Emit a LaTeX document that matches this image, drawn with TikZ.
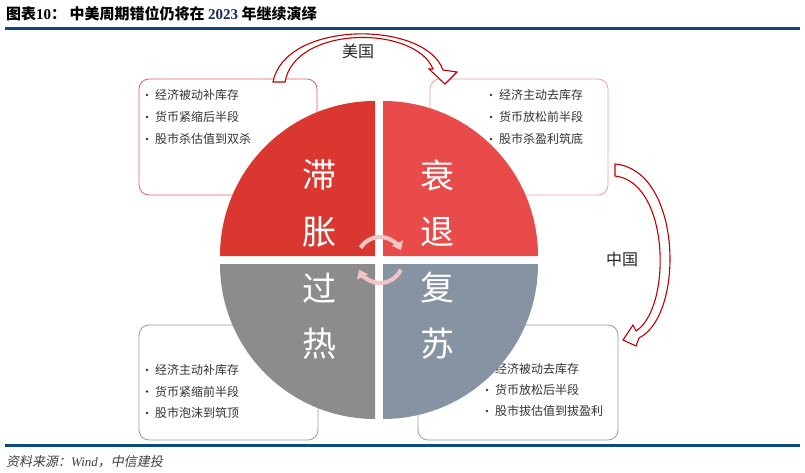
\documentclass[tikz,border=0pt]{standalone}
\usepackage{fontspec}
\setmainfont{Noto Sans CJK SC}
\newfontfamily\tnr{Liberation Serif}
\newfontfamily\tnrit{Liberation Serif Italic}
\newfontfamily\srcfont[FakeSlant=0.2]{Noto Sans CJK SC}
\usetikzlibrary{arrows.meta}
\definecolor{topblue}{HTML}{0F4A7E}
\definecolor{qTL}{HTML}{D9372F}
\definecolor{qTR}{HTML}{E94B4A}
\definecolor{qBL}{HTML}{8C8C8C}
\definecolor{qBR}{HTML}{8593A3}
\definecolor{bTL}{HTML}{E06464}
\definecolor{bTR}{HTML}{F2A0A0}
\definecolor{bBL}{HTML}{9C9C9C}
\definecolor{bBR}{HTML}{8F9CB0}
\definecolor{arrred}{HTML}{C00000}
\definecolor{pinkarr}{HTML}{F2C4C4}
\definecolor{txt}{HTML}{333333}
\definecolor{navytxt}{HTML}{1B2A55}
\begin{document}
\begin{tikzpicture}[x=1pt,y=-1pt,
  infobox/.style={rounded corners=10pt, fill=white, line width=0.8pt},
  bullet/.style={circle, fill=txt, inner sep=0pt, minimum size=2.6pt},
  item/.style={anchor=west, inner sep=0pt, font=\fontsize{12}{14}\selectfont, text=txt},
  quadtext/.style={anchor=center, inner sep=0pt, text=white, font=\fontsize{34}{36}\selectfont},
  bigarrow/.style={draw=arrred, fill=white, line width=1.1pt, line join=miter},
  cyclearr/.style={draw=pinkarr, line width=4.2pt, -{Triangle[length=8pt,width=12pt]}},
  country/.style={anchor=center, inner sep=0pt, font=\fontsize{16}{18}\selectfont, text=black!85}]
\useasboundingbox (0,0) rectangle (805,473);
\fill[white] (0,0) rectangle (805,473);

% title and rules
\node[anchor=west, inner sep=0pt, font=\fontsize{15}{17}\selectfont\bfseries] (title) at (6,14)
  {图表{\tnr\bfseries 10}：\ 中美周期错位仍将在 {\tnr\bfseries\color{navytxt}2023} 年继续演绎};
\draw[topblue, line width=3.5pt] (5,28.5) -- (800,28.5);
\draw[topblue, line width=3pt] (5,445.5) -- (800,445.5);
\node[anchor=west, inner sep=0pt, font=\fontsize{13}{15}\selectfont, text=black!75] (src) at (6,462)
  {\srcfont 资料来源：{\tnrit Wind}，中信建投};

% boxes
\draw[infobox, draw=bTL] (139,79) rectangle (317,195);
\draw[infobox, draw=bTR] (430,79) rectangle (608,195);
\draw[infobox, draw=bBL] (139,325) rectangle (318,440);
\draw[infobox, draw=bBR] (418,325) rectangle (618,440);

% box texts
\foreach \t [count=\i] in {经济被动补库存,货币紧缩后半段,股市杀估值到双杀}{
  \node[bullet] (tlb\i) at (147,{95+22*(\i-1)}) {};
  \node[item] (tlt\i) at (155,{95+22*(\i-1)}) {\t};
}
\foreach \t [count=\i] in {经济主动去库存,货币放松前半段,股市杀盈利筑底}{
  \node[bullet] (trb\i) at (491,{95+22*(\i-1)}) {};
  \node[item] (trt\i) at (499,{95+22*(\i-1)}) {\t};
}
\foreach \t [count=\i] in {经济主动补库存,货币紧缩前半段,股市泡沫到筑顶}{
  \node[bullet] (blb\i) at (147,{370+21.5*(\i-1)}) {};
  \node[item] (blt\i) at (155,{370+21.5*(\i-1)}) {\t};
}
\foreach \t [count=\i] in {经济被动去库存,货币放松后半段,股市拔估值到拔盈利}{
  \node[bullet] (brb\i) at (487,{369+21*(\i-1)}) {};
  \node[item] (brt\i) at (495,{369+21*(\i-1)}) {\t};
}

% quadrants
\fill[qTL] (375,256) -- (220,256) arc[start angle=180, end angle=270, radius=155] -- cycle;
\fill[qTR] (383,256) -- (383,101) arc[start angle=270, end angle=360, radius=155] -- cycle;
\fill[qBL] (375,264) -- (375,419) arc[start angle=90, end angle=180, radius=155] -- cycle;
\fill[qBR] (383,264) -- (538,264) arc[start angle=0, end angle=90, radius=155] -- cycle;

\node[quadtext] (q1) at (319,175) {滞};
\node[quadtext] (q2) at (319,232) {胀};
\node[quadtext] (q3) at (437,175) {衰};
\node[quadtext] (q4) at (437,232) {退};
\node[quadtext] (q5) at (319,288) {过};
\node[quadtext] (q6) at (319,344) {热};
\node[quadtext] (q7) at (437,288) {复};
\node[quadtext] (q8) at (437,344) {苏};

% central cycle arrows
\coordinate (cc) at (380,260);
\draw[cyclearr] ([shift={(212:23)}]cc) arc[start angle=212, end angle=335, radius=23];
\draw[cyclearr] ([shift={(25:23)}]cc) arc[start angle=25, end angle=155, radius=23];

% US arrow
\draw[bigarrow] (273,82) .. controls (285,20) and (425,20) .. (443,70) -- (457,72) -- (445,84) -- (429,69) -- (433,69)
   .. controls (415,25) and (295,25) .. (285,82) -- cycle;
\node[country] (us) at (358,51) {美国};

% China arrow
\draw[bigarrow] (615,164) .. controls (682,170) and (685,315) .. (639,338) -- (636,346) -- (623,340) -- (633,325) -- (636,331)
   .. controls (672,308) and (670,182) .. (615,176) -- cycle;
\node[country] (cn) at (622,259) {中国};
\end{tikzpicture}
\end{document}
